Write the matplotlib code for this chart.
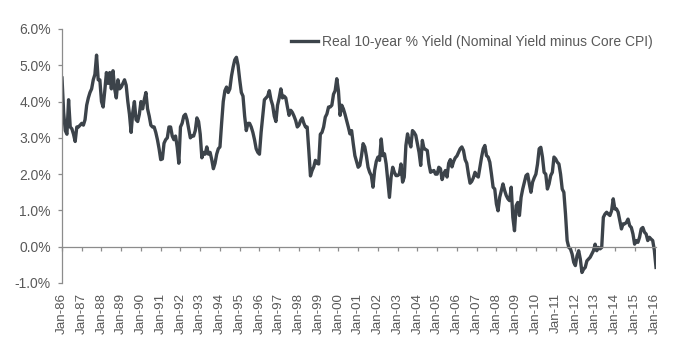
import matplotlib
matplotlib.use("Agg")
import matplotlib.pyplot as plt
import numpy as np

plt.rcParams['font.family'] = ['Liberation Sans', 'DejaVu Sans']

series_label = "Real 10-year % Yield (Nominal Yield minus Core CPI)"

# Monthly values (%), Jan-1986 .. Feb-2016
y1986 = [4.65, 3.7, 3.2, 3.1, 4.05, 3.3, 3.25, 3.1, 2.9, 3.3, 3.3, 3.35]
y1987 = [3.4, 3.35, 3.5, 3.9, 4.1, 4.25, 4.35, 4.6, 4.75, 5.28, 4.6, 4.6]
y1988 = [4.0, 3.85, 4.3, 4.8, 4.5, 4.8, 4.35, 4.85, 4.35, 4.1, 4.6, 4.35]
y1989 = [4.4, 4.5, 4.6, 4.45, 4.0, 3.65, 3.15, 3.7, 4.0, 3.5, 3.45, 3.65]
y1990 = [4.0, 3.8, 4.05, 4.25, 3.8, 3.6, 3.35, 3.3, 3.3, 3.15, 2.95, 2.7]
y1991 = [2.4, 2.42, 2.85, 2.95, 3.0, 3.3, 3.3, 3.05, 2.95, 3.05, 2.75, 2.3]
y1992 = [3.3, 3.4, 3.6, 3.65, 3.5, 3.25, 3.0, 3.05, 3.05, 3.2, 3.55, 3.45]
y1993 = [3.1, 2.45, 2.6, 2.55, 2.75, 2.55, 2.6, 2.4, 2.15, 2.3, 2.55, 2.7]
y1994 = [2.75, 3.4, 4.0, 4.3, 4.4, 4.25, 4.35, 4.7, 4.95, 5.15, 5.22, 5.0]
y1995 = [4.6, 4.25, 4.15, 3.6, 3.2, 3.4, 3.4, 3.3, 3.15, 2.95, 2.7, 2.6]
y1996 = [2.55, 3.15, 3.6, 4.05, 4.1, 4.15, 4.3, 4.05, 3.9, 3.6, 3.45, 3.9]
y1997 = [4.1, 4.35, 4.1, 4.15, 4.1, 3.85, 3.62, 3.76, 3.7, 3.6, 3.48, 3.3]
y1998 = [3.35, 3.48, 3.55, 3.4, 3.3, 3.3, 2.65, 1.95, 2.1, 2.2, 2.38, 2.3]
y1999 = [2.28, 3.1, 3.15, 3.3, 3.57, 3.66, 3.85, 3.85, 3.9, 4.2, 4.3, 4.63]
y2000 = [4.3, 3.62, 3.9, 3.8, 3.65, 3.48, 3.3, 3.11, 3.2, 2.84, 2.51, 2.35]
y2001 = [2.19, 2.24, 2.5, 2.84, 2.75, 2.5, 2.19, 2.05, 1.96, 1.64, 2.1, 2.35]
y2002 = [2.47, 2.38, 2.97, 2.51, 2.56, 2.28, 1.82, 1.36, 1.92, 2.19, 2.05, 1.96]
y2003 = [1.96, 2.0, 2.28, 1.78, 1.92, 2.79, 3.11, 2.9, 2.75, 3.2, 3.15, 3.07]
y2004 = [2.84, 2.6, 2.24, 2.93, 2.7, 2.68, 2.65, 2.28, 2.05, 2.08, 2.1, 2.0]
y2005 = [2.0, 2.19, 2.15, 1.85, 2.0, 2.1, 1.92, 2.3, 2.4, 2.2, 2.35, 2.45]
y2006 = [2.5, 2.6, 2.7, 2.75, 2.65, 2.4, 2.3, 2.0, 1.75, 1.8, 1.9, 2.05]
y2007 = [1.96, 1.92, 2.19, 2.47, 2.7, 2.79, 2.51, 2.47, 2.33, 2.0, 1.64, 1.59]
y2008 = [1.18, 0.99, 1.36, 1.55, 1.73, 1.55, 1.41, 1.32, 1.27, 1.64, 0.81, 0.44]
y2009 = [1.13, 1.22, 0.86, 1.36, 1.59, 1.78, 1.96, 2.0, 1.73, 1.5, 1.78, 1.9]
y2010 = [2.0, 2.28, 2.7, 2.74, 2.47, 2.05, 2.0, 1.59, 1.73, 1.96, 2.05, 2.47]
y2011 = [2.42, 2.33, 2.28, 2.0, 1.59, 1.5, 0.9, 0.17, -0.02, -0.06, -0.2, -0.43]
y2012 = [-0.52, -0.25, -0.11, -0.34, -0.71, -0.62, -0.57, -0.39, -0.34, -0.29, -0.2, -0.11]
y2013 = [0.07, -0.11, -0.02, -0.06, -0.02, 0.81, 0.9, 0.95, 0.9, 0.86, 0.99, 1.32]
y2014 = [1.04, 1.04, 0.95, 0.72, 0.49, 0.63, 0.63, 0.67, 0.76, 0.58, 0.53, 0.35]
y2015 = [0.07, 0.17, 0.12, 0.26, 0.49, 0.53, 0.4, 0.35, 0.17, 0.26, 0.21, 0.17]
y2016 = [-0.1, -0.57]

years = list(range(1986, 2017))
yearly = [y1986, y1987, y1988, y1989, y1990, y1991, y1992, y1993, y1994, y1995,
          y1996, y1997, y1998, y1999, y2000, y2001, y2002, y2003, y2004, y2005,
          y2006, y2007, y2008, y2009, y2010, y2011, y2012, y2013, y2014, y2015, y2016]
values = [v for yr in yearly for v in yr]
tick_labels = ["Jan-%02d" % (y % 100) for y in years]

y_ticks = [-1, 0, 1, 2, 3, 4, 5, 6]
y_tick_labels = ["%.1f%%" % t for t in y_ticks]

line_color = "#3c434a"
axis_color = "#8c8c8c"
text_color = "#595959"

fig = plt.figure(figsize=(6.8, 3.54), dpi=100)
ax = fig.add_axes([62/680, 1 - 283/354, (656 - 62)/680, (283 - 29)/354])

x = np.arange(len(values))
ax.plot(x, values, color=line_color, lw=2.4, label=series_label, solid_joinstyle='round')

ax.set_xlim(0, len(values) - 1)
ax.set_ylim(-1, 6)

for s in ['top', 'right']:
    ax.spines[s].set_visible(False)
ax.spines['left'].set_color(axis_color)
ax.spines['left'].set_linewidth(0.9)
ax.spines['bottom'].set_position(('data', 0))
ax.spines['bottom'].set_color(axis_color)
ax.spines['bottom'].set_linewidth(0.9)

ax.set_yticks(y_ticks)
ax.set_yticklabels(y_tick_labels)
ax.tick_params(axis='y', direction='out', length=3, width=0.9, color=axis_color,
               labelsize=10, labelcolor=text_color, pad=5)

xt = [12 * i for i in range(len(years))]
ax.set_xticks(xt)
ax.tick_params(axis='x', direction='out', length=3, width=0.9, color=axis_color,
               labelbottom=False)

sec = ax.secondary_xaxis('bottom')
sec.set_xticks(xt)
sec.set_xticklabels(tick_labels, rotation=90)
sec.tick_params(axis='x', length=0, labelsize=9.6, labelcolor=text_color, pad=7)
sec.spines['bottom'].set_visible(False)

leg = ax.legend(loc='upper right', bbox_to_anchor=(1.008, 1.008), frameon=False,
                fontsize=10, handlelength=1.9, handletextpad=0.3, borderaxespad=0.2)
for t in leg.get_texts():
    t.set_color(text_color)

fig.savefig("out.png", dpi=100)
